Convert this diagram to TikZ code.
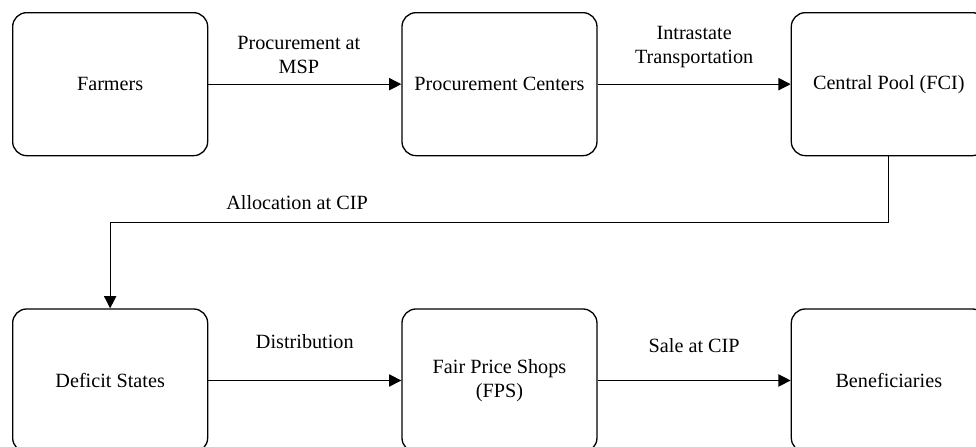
\documentclass[tikz,border=0pt]{standalone}
\usepackage{fontspec}
\setmainfont{Liberation Serif}
\usetikzlibrary{arrows.meta, positioning}

\begin{document}
\begin{tikzpicture}[
  node distance=3.04cm and 3.86cm,
  font=\fontsize{11.5}{13.5}\selectfont,
  box/.style={rectangle, rounded corners=8pt, draw, line width=0.75pt,
              minimum width=3.9cm, minimum height=2.86cm, align=center},
  arr/.style={-{Triangle[length=7pt,width=7pt]}, line width=0.75pt},
  lbl/.style={inner sep=0pt, align=center},
]
\useasboundingbox (0,0) rectangle (19.52,-8.92);

\node[box, anchor=north west] (farmers) at (0.24,-0.24) {Farmers};
\node[box, right=of farmers] (proc) {Procurement Centers};
\node[box, right=of proc] (pool) {Central Pool (FCI)};

\node[box, below=of farmers] (deficit) {Deficit States};
\node[box, right=of deficit] (fps) {Fair Price Shops\\(FPS)};
\node[box, right=of fps] (benef) {Beneficiaries};

\draw[arr] (farmers) -- node[lbl, above=5.7pt, xshift=-0.12cm] {Procurement at\\MSP} (proc);
\draw[arr] (proc) -- node[lbl, above=9pt] {Intrastate\\Transportation} (pool);
\draw[arr] (pool.south) -- ++(0,-1.32) -| node[lbl, pos=0.38, above=7pt] {Allocation at CIP} (deficit.north);
\draw[arr] (deficit) -- node[lbl, above=17.6pt] {Distribution} (fps);
\draw[arr] (fps) -- node[lbl, above=15.5pt] {Sale at CIP} (benef);

\end{tikzpicture}
\end{document}
